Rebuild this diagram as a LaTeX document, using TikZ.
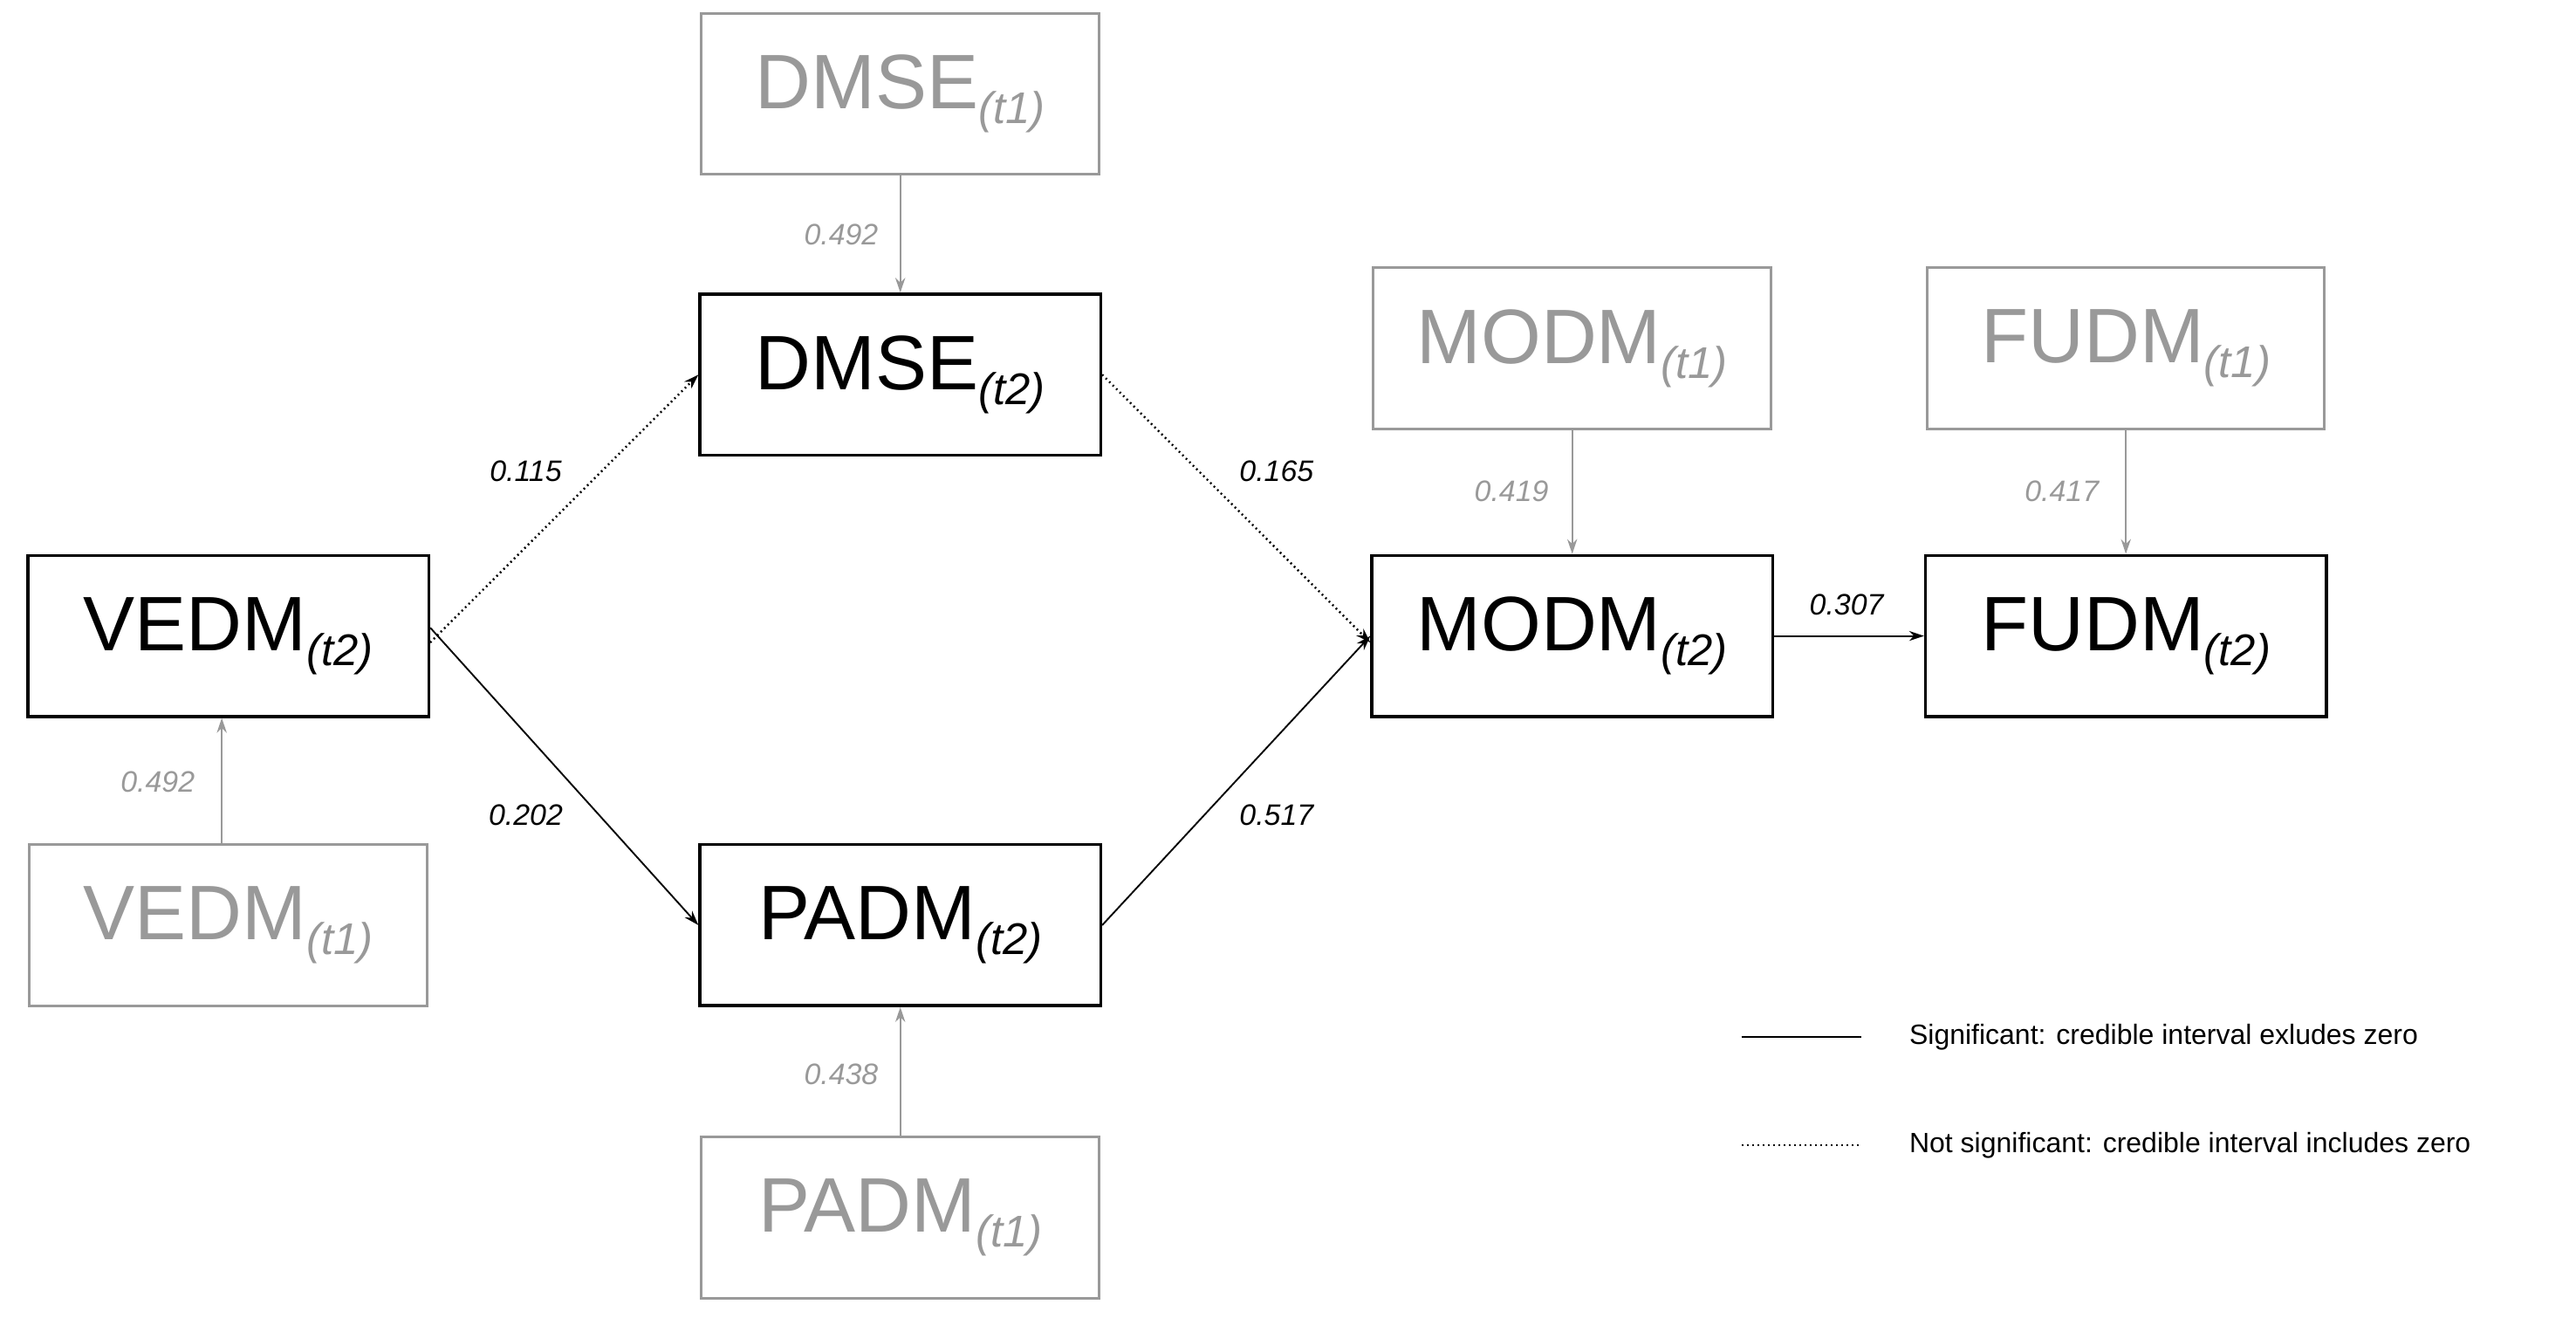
\documentclass[tikz,border=0pt]{standalone}
\usepackage{fontspec}
\setmainfont{Liberation Sans}
\usetikzlibrary{arrows.meta}
\definecolor{gr}{HTML}{999999}
\newcommand{\vname}[2]{\fontsize{47}{47}\selectfont #1\raisebox{-9pt}{\fontsize{27}{27}\selectfont\itshape (#2)}}
\begin{document}
\begin{tikzpicture}[x=1pt,y=-1pt,
  box/.style={draw=black,line width=1.8pt,minimum width=244pt,minimum height=98pt,inner sep=0pt},
  gbox/.style={draw=gr,text=gr,line width=1.6pt,minimum width=242pt,minimum height=98pt,inner sep=0pt},
  arr/.style={line width=1pt,-{Stealth[length=9pt,width=6pt]}},
  garr/.style={arr,draw=gr,line width=1.2pt},
  dot/.style={arr,dotted,line width=1.3pt},
  lab/.style={font=\fontsize{18}{18}\selectfont\itshape,inner sep=0pt},
  glab/.style={lab,text=gr},
  leg/.style={font=\fontsize{17}{17}\selectfont,anchor=west,inner sep=0pt}]
\useasboundingbox (0,0) rectangle (1568,802);
\node[gbox] (dmse1) at (548,57) {\vname{DMSE}{t1}};
\node[box] (dmse2) at (548,228) {\vname{DMSE}{t2}};
\node[box] (vedm2) at (139,387) {\vname{VEDM}{t2}};
\node[gbox] (vedm1) at (139,563) {\vname{VEDM}{t1}};
\node[box] (padm2) at (548,563) {\vname{PADM}{t2}};
\node[gbox] (padm1) at (548,741) {\vname{PADM}{t1}};
\node[gbox] (modm1) at (957,212) {\vname{MODM}{t1}};
\node[box] (modm2) at (957,387) {\vname{MODM}{t2}};
\node[gbox] (fudm1) at (1294,212) {\vname{FUDM}{t1}};
\node[box] (fudm2) at (1294,387) {\vname{FUDM}{t2}};

\draw[garr] (dmse1.south) -- (dmse2.north);
\draw[garr] (vedm1.north -| 135,0) -- (vedm2.south -| 135,0);
\draw[garr] (padm1.north) -- (padm2.south);
\draw[garr] (modm1.south) -- (modm2.north);
\draw[garr] (fudm1.south) -- (fudm2.north);

\draw[dot] ([yshift=-4pt]vedm2.east) -- (dmse2.west);
\draw[arr] ([yshift=5pt]vedm2.east) -- (padm2.west);
\draw[dot] (dmse2.east) -- ([yshift=-4pt]modm2.west);
\draw[arr] (padm2.east) -- (modm2.west);
\draw[arr] (modm2.east) -- (fudm2.west);

\node[glab] (l1) at (512,143) {0.492};
\node[glab] (l2) at (96,476) {0.492};
\node[glab] (l3) at (512,654) {0.438};
\node[glab] (l4) at (920,299) {0.419};
\node[glab] (l5) at (1255,299) {0.417};
\node[lab] (l6) at (320,287) {0.115};
\node[lab] (l7) at (320,496) {0.202};
\node[lab] (l8) at (777,287) {0.165};
\node[lab] (l9) at (777,496) {0.517};
\node[lab] (l10) at (1124,368) {0.307};

\coordinate (s1) at (1060,631); \coordinate (s2) at (1133,631);
\coordinate (d1) at (1060,697); \coordinate (d2) at (1133,697);
\draw[line width=1.2pt] (s1) -- (s2);
\draw[line width=1.2pt,dotted] (d1) -- (d2);
\node[leg] (t1) at (1162,631) {Significant: credible interval exludes zero};
\node[leg] (t2) at (1162,697) {Not significant: credible interval includes zero};
\end{tikzpicture}
\end{document}
